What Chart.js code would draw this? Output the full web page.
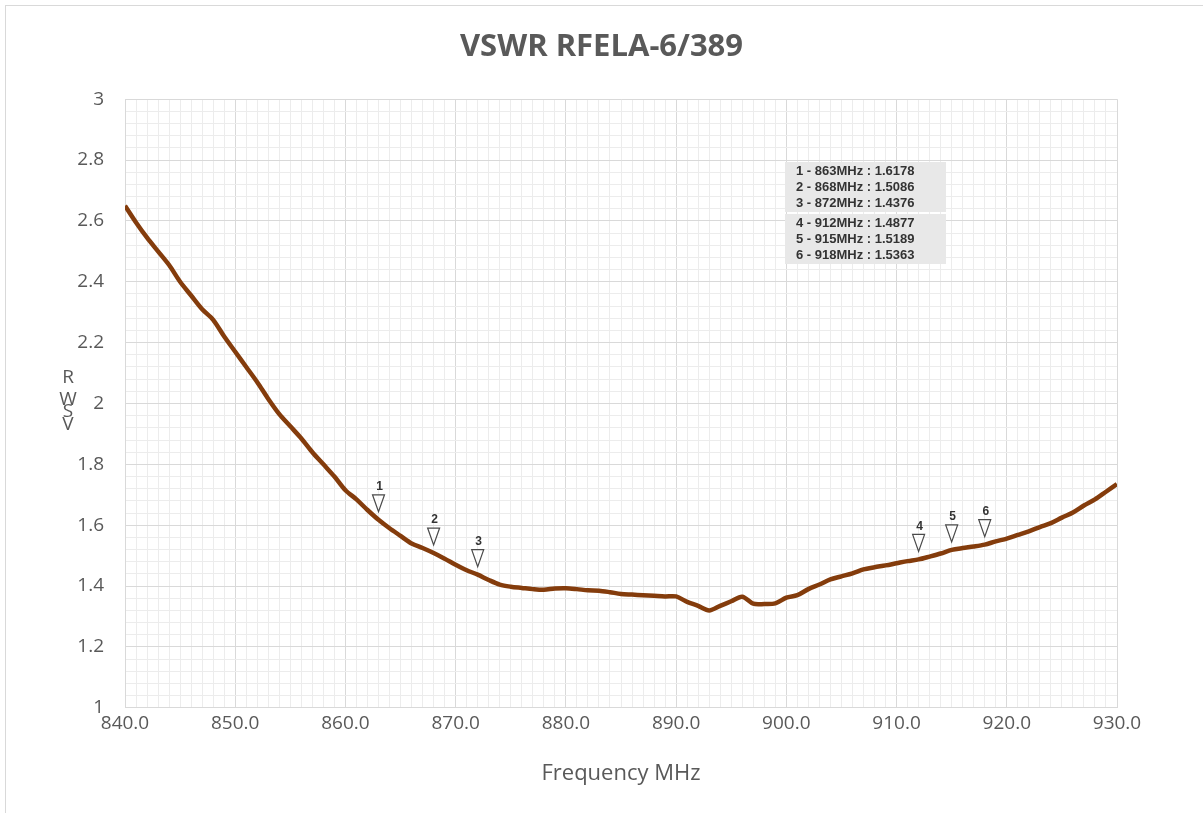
<!DOCTYPE html>
<html>
<head>
<meta charset="utf-8">
<title>VSWR RFELA-6/389</title>
<script src="https://cdn.jsdelivr.net/npm/chart.js@4.4.1/dist/chart.umd.min.js"></script>
<style>
  html, body { margin: 0; padding: 0; background: #fff; }
  #wrap { position: relative; width: 1203px; height: 813px; }
</style>
</head>
<body>
<div id="wrap"><canvas id="vswrChart" width="1203" height="813"></canvas></div>
<script>
// Frequency sweep (MHz) and measured VSWR
const freqs = [
  840, 841, 842, 843, 844, 845, 846, 847, 848, 849,
  850, 851, 852, 853, 854, 855, 856, 857, 858, 859,
  860, 861, 862, 863, 864, 865, 866, 867, 868, 869,
  870, 871, 872, 873, 874, 875, 876, 877, 878, 879,
  880, 881, 882, 883, 884, 885, 886, 887, 888, 889,
  890, 891, 892, 893, 894, 895, 896, 897, 898, 899,
  900, 901, 902, 903, 904, 905, 906, 907, 908, 909,
  910, 911, 912, 913, 914, 915, 916, 917, 918, 919,
  920, 921, 922, 923, 924, 925, 926, 927, 928, 929, 930
];
const vswr = [
  2.650, 2.595, 2.545, 2.500, 2.455, 2.400, 2.355, 2.310, 2.275, 2.220,
  2.170, 2.120, 2.070, 2.015, 1.965, 1.925, 1.885, 1.840, 1.800, 1.760,
  1.715, 1.685, 1.650, 1.6178, 1.590, 1.565, 1.540, 1.525, 1.5086, 1.490,
  1.470, 1.452, 1.4376, 1.420, 1.405, 1.398, 1.394, 1.390, 1.388, 1.392,
  1.393, 1.390, 1.386, 1.385, 1.380, 1.374, 1.372, 1.370, 1.368, 1.366,
  1.366, 1.348, 1.335, 1.320, 1.335, 1.350, 1.365, 1.342, 1.341, 1.343,
  1.362, 1.370, 1.390, 1.405, 1.422, 1.432, 1.442, 1.455, 1.462, 1.468,
  1.475, 1.482, 1.4877, 1.497, 1.507, 1.5189, 1.525, 1.530, 1.5363, 1.547,
  1.556, 1.568, 1.580, 1.594, 1.607, 1.625, 1.642, 1.665, 1.685, 1.710, 1.735
];

// Marker readings
const markerIds = ['1', '2', '3', '4', '5', '6'];
const markerFreqs = [863, 868, 872, 912, 915, 918];
const markerValues = [1.6178, 1.5086, 1.4376, 1.4877, 1.5189, 1.5363];

const TEXT = '#595959';
const MAJOR = '#d9d9d9';
const MINOR = '#ececec';

// Draws the frame, marker triangles, readout boxes and the stacked y title
const decorPlugin = {
  id: 'decor',
  beforeDraw(chart) {
    const ctx = chart.ctx;
    ctx.save();
    ctx.strokeStyle = '#d9d9d9';
    ctx.lineWidth = 1;
    ctx.strokeRect(5.5, 5.5, 1300, 900);
    ctx.restore();
  },
  afterDatasetsDraw(chart) {
    const ctx = chart.ctx;
    const xs = chart.scales.x;
    const ys = chart.scales.y;
    ctx.save();

    // marker triangles
    markerFreqs.forEach((f, i) => {
      const px = xs.getPixelForValue(f);
      const py = ys.getPixelForValue(markerValues[i]);
      const tip = py - 8;
      ctx.beginPath();
      ctx.moveTo(px - 6, tip - 17);
      ctx.lineTo(px + 6, tip - 17);
      ctx.lineTo(px, tip);
      ctx.closePath();
      ctx.fillStyle = 'rgba(255,255,255,0.6)';
      ctx.fill();
      ctx.strokeStyle = '#4a4a4a';
      ctx.lineWidth = 1.2;
      ctx.stroke();
      ctx.fillStyle = '#333';
      ctx.font = 'bold 12px "Liberation Sans", Arial, sans-serif';
      ctx.textAlign = 'center';
      ctx.textBaseline = 'middle';
      ctx.fillText(markerIds[i], px + 1, tip - 25);
    });

    // readout boxes
    const groups = [[0, 1, 2], [3, 4, 5]];
    const boxTops = [162, 214];
    ctx.font = 'bold 13px "Liberation Sans", Arial, sans-serif';
    ctx.textAlign = 'left';
    ctx.textBaseline = 'middle';
    groups.forEach((g, gi) => {
      ctx.fillStyle = '#e8e8e8';
      ctx.fillRect(785, boxTops[gi], 161, 50);
      ctx.fillStyle = '#333';
      g.forEach((idx, li) => {
        const label = markerIds[idx] + ' - ' + markerFreqs[idx] + 'MHz : ' + markerValues[idx].toFixed(4);
        ctx.fillText(label, 796, boxTops[gi] + 9 + li * 16);
      });
    });

    // stacked y-axis title (letters overlap as in the source)
    ctx.fillStyle = TEXT;
    ctx.font = '19px "Open Sans", sans-serif';
    ctx.textAlign = 'center';
    ctx.textBaseline = 'middle';
    const letters = ['R', 'W', 'S', 'V'];
    const ly = [378, 400, 412, 425];
    letters.forEach((c, i) => ctx.fillText(c, 68, ly[i]));

    ctx.restore();
  }
};

const points = freqs.map((f, i) => ({ x: f, y: vswr[i] }));

new Chart(document.getElementById('vswrChart'), {
  type: 'line',
  data: {
    datasets: [{
      label: 'VSWR',
      data: points,
      borderColor: '#843c0c',
      borderWidth: 4.5,
      pointRadius: 0,
      tension: 0.3,
      fill: false
    }]
  },
  options: {
    responsive: false,
    animation: false,
    layout: { padding: { left: 0, right: 0, top: 0, bottom: 26 } },
    plugins: {
      legend: { display: false },
      tooltip: { enabled: false },
      title: {
        display: true,
        text: 'VSWR RFELA-6/389',
        color: TEXT,
        font: { family: '"Open Sans", sans-serif', size: 31, weight: 'bold' },
        padding: { top: 29, bottom: 33 }
      }
    },
    scales: {
      x: {
        type: 'linear',
        min: 840,
        max: 930,
        border: { color: MAJOR },
        grid: {
          drawTicks: false,
          color: c => (c.tick && c.tick.value % 10 === 0) ? MAJOR : MINOR
        },
        ticks: {
          stepSize: 1,
          autoSkip: false,
          maxRotation: 0,
          padding: 4,
          color: TEXT,
          font: { family: '"Open Sans", sans-serif', size: 19 },
          callback: v => (v % 10 === 0) ? v.toFixed(1) : ''
        },
        title: {
          display: true,
          text: 'Frequency MHz',
          color: TEXT,
          font: { family: '"Open Sans", sans-serif', size: 22 },
          padding: { top: 22, bottom: 0 }
        }
      },
      y: {
        min: 1,
        max: 3,
        border: { color: MAJOR },
        afterFit: s => { s.width = 125; },
        grid: {
          drawTicks: false,
          color: c => {
            const v = c.tick ? c.tick.value : 0;
            return Math.abs(v * 5 - Math.round(v * 5)) < 1e-6 ? MAJOR : MINOR;
          }
        },
        ticks: {
          stepSize: 0.04,
          autoSkip: false,
          padding: 21,
          color: TEXT,
          font: { family: '"Open Sans", sans-serif', size: 19 },
          callback: v => Math.abs(v * 5 - Math.round(v * 5)) < 1e-6 ? String(Number(v.toFixed(1))) : ''
        }
      },
      // empty right-hand spacer so the title stays centred on the page
      yPad: {
        position: 'right',
        min: 0,
        max: 1,
        afterFit: s => { s.width = 86; },
        grid: { display: false },
        border: { display: false },
        ticks: { display: false }
      }
    }
  },
  plugins: [decorPlugin]
});
</script>
</body>
</html>
